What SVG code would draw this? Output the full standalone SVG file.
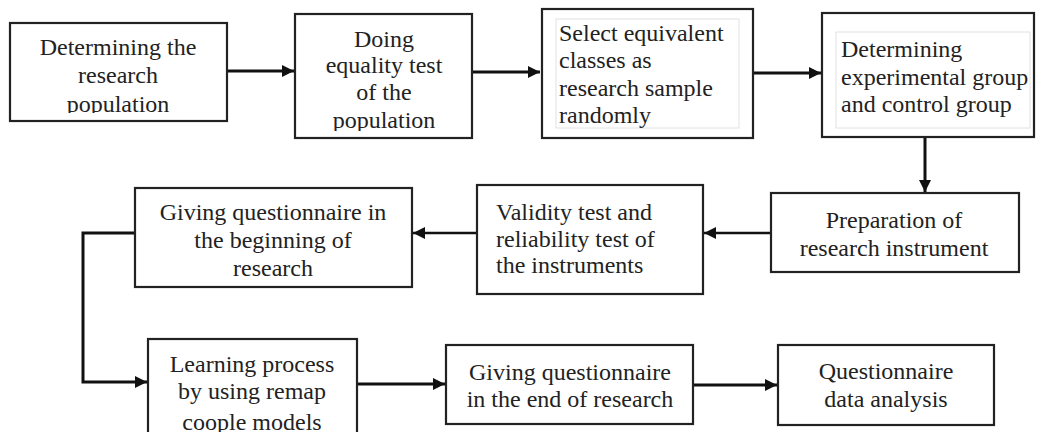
<svg xmlns="http://www.w3.org/2000/svg" width="1038" height="432" viewBox="0 0 1038 432">
<style>
.box{fill:#fff;stroke:#222;stroke-width:2.2}
.inner{fill:none;stroke:#e2e2e2;stroke-width:1}
.t{font-family:"Liberation Serif","Times New Roman",serif;font-size:24px;fill:#222}
.c{text-anchor:middle}
.conn{fill:none;stroke:#111;stroke-width:3}
.thin{stroke-width:2.4}
</style>
<defs>
<marker id="ah" markerUnits="userSpaceOnUse" markerWidth="13" markerHeight="13" refX="12" refY="6" orient="auto">
<path d="M0,0 L12,6 L0,12 z" fill="#111"/>
</marker>
<clipPath id="clip1"><rect x="10" y="23" width="217" height="90"/></clipPath>
<clipPath id="clip2"><rect x="295" y="14" width="177" height="117"/></clipPath>
</defs>
<rect width="1038" height="432" fill="#fff"/>

<g id="connectors">
<line class="conn" x1="227" y1="71" x2="294" y2="71" marker-end="url(#ah)"/>
<line class="conn" x1="472" y1="72" x2="540" y2="72" marker-end="url(#ah)"/>
<line class="conn" x1="753" y1="73" x2="821" y2="73" marker-end="url(#ah)"/>
<line class="conn" x1="925" y1="137" x2="925" y2="192" marker-end="url(#ah)"/>
<line class="conn thin" x1="771" y1="233" x2="704" y2="233" marker-end="url(#ah)"/>
<line class="conn thin" x1="477" y1="233" x2="413" y2="233" marker-end="url(#ah)"/>
<polyline class="conn" points="135,233 83,233 83,382 147,382" marker-end="url(#ah)"/>
<line class="conn" x1="357" y1="384" x2="445" y2="384" marker-end="url(#ah)"/>
<line class="conn" x1="693" y1="385" x2="777" y2="385" marker-end="url(#ah)"/>
</g>

<g id="node1">
<rect class="box" x="10" y="23" width="217" height="98"/>
<g clip-path="url(#clip1)">
<text class="t c" x="118" y="55">Determining the</text>
<text class="t c" x="118" y="83">research</text>
<text class="t c" x="118" y="112">population</text>
</g>
</g>

<g id="node2">
<rect class="box" x="295" y="14" width="177" height="124"/>
<g clip-path="url(#clip2)">
<text class="t c" x="384" y="47">Doing</text>
<text class="t c" x="384" y="73">equality test</text>
<text class="t c" x="384" y="100">of the</text>
<text class="t c" x="384" y="128">population</text>
</g>
</g>

<g id="node3">
<rect class="box" x="542" y="9" width="211" height="129"/>
<rect class="inner" x="556" y="19" width="183" height="109"/>
<text class="t" x="559" y="41">Select equivalent</text>
<text class="t" x="559" y="68">classes as</text>
<text class="t" x="559" y="96">research sample</text>
<text class="t" x="559" y="123">randomly</text>
</g>

<g id="node4">
<rect class="box" x="822" y="13" width="212" height="124"/>
<rect class="inner" x="836" y="32" width="194" height="96"/>
<text class="t" x="841" y="57">Determining</text>
<text class="t" x="841" y="85">experimental group</text>
<text class="t" x="841" y="112">and control group</text>
</g>

<g id="node5">
<rect class="box" x="771" y="193" width="248" height="79"/>
<text class="t c" x="894" y="228">Preparation of</text>
<text class="t c" x="894" y="256">research instrument</text>
</g>

<g id="node6">
<rect class="box" x="477" y="185" width="226" height="109"/>
<text class="t" x="496" y="220">Validity test and</text>
<text class="t" x="496" y="247">reliability test of</text>
<text class="t" x="496" y="273">the instruments</text>
</g>

<g id="node7">
<rect class="box" x="135" y="188" width="277" height="99"/>
<text class="t c" x="273" y="220">Giving questionnaire in</text>
<text class="t c" x="273" y="248">the beginning of</text>
<text class="t c" x="273" y="276">research</text>
</g>

<g id="node8">
<rect class="box" x="148" y="339" width="209" height="110"/>
<text class="t c" x="252" y="372">Learning process</text>
<text class="t c" x="252" y="399">by using remap</text>
<text class="t c" x="252" y="430">coople models</text>
</g>

<g id="node9">
<rect class="box" x="446" y="345" width="247" height="79"/>
<text class="t c" x="570" y="380">Giving questionnaire</text>
<text class="t c" x="570" y="407">in the end of research</text>
</g>

<g id="node10">
<rect class="box" x="778" y="345" width="216" height="80"/>
<text class="t c" x="886" y="379">Questionnaire</text>
<text class="t c" x="886" y="407">data analysis</text>
</g>
</svg>
